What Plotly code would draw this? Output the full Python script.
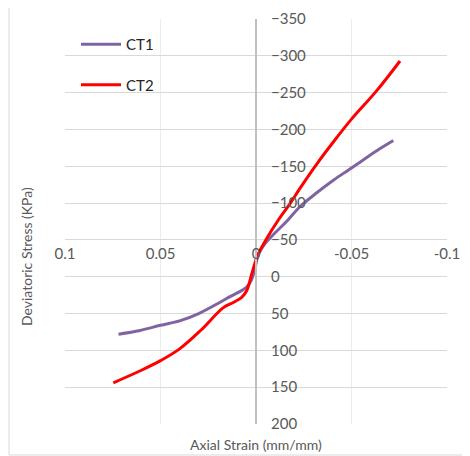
import plotly.graph_objects as go

# Data
ct1_strain = [0.072, 0.0607, 0.050, 0.040, 0.030, 0.019, 0.0136, 0.0049, 0.0023, 0.0005, -0.0012,
              -0.0047, -0.009, -0.016, -0.023, -0.0318, -0.0405, -0.049, -0.058, -0.065, -0.0719]
ct1_stress = [78, 73, 66, 60, 50, 35, 27, 14, 4, -12, -30,
              -45, -57, -75, -95, -114, -131, -146, -162, -174, -185]

ct2_strain = [0.0747, 0.060, 0.050, 0.040, 0.029, 0.0171, 0.0119, 0.0075, 0.0049, 0.0023, 0.0005,
              -0.0012, -0.0056, -0.0117, -0.018, -0.023, -0.0318, -0.042, -0.050, -0.063, -0.0754]
ct2_stress = [144, 127, 114, 98, 73, 42, 35, 28, 19, -3, -19,
              -31, -52, -77, -100, -120, -153, -188, -214, -252, -293]

x_ticks = [0.1, 0.05, 0, -0.05, -0.1]
x_tick_text = ["0.1", "0.05", "0", "-0.05", "-0.1"]
y_ticks = [-350, -300, -250, -200, -150, -100, -50, 0, 50, 100, 150, 200]

FONT = "Lato"
GREY = "#595959"

fig = go.Figure()
fig.add_trace(go.Scatter(x=ct1_strain, y=ct1_stress, mode="lines", name="CT1",
                         legendgroup="a",
                         line=dict(color="#8064A2", width=3, shape="spline", smoothing=1.0)))
fig.add_trace(go.Scatter(x=ct2_strain, y=ct2_stress, mode="lines", name="CT2",
                         legendgroup="b",
                         line=dict(color="#FF0000", width=3, shape="spline", smoothing=1.0)))

# The page body has an 8px margin: figure origin sits at page (8, 8)
OFF = 8
W, H = 470 - OFF, 456 - OFF
PL, PR, PT, PB = 65, 447, 19, 424  # plot area in page pixels
L, T = PL - OFF, PT - OFF
R, B = W - (PR - OFF), H - (PB - OFF)
pw, ph = W - L - R, H - T - B

def px2fx(px):
    return (px - PL) / pw

def py2fy(py):
    return (PB - py) / ph

fig.update_layout(
    width=W, height=H,
    margin=dict(l=L, r=R, t=T, b=B, autoexpand=False),
    paper_bgcolor="white", plot_bgcolor="white",
    font=dict(family=FONT, color=GREY, size=15),
    showlegend=True,
    legend=dict(x=px2fx(76), y=py2fy(28), xanchor="left", yanchor="top",
                bgcolor="rgba(0,0,0,0)", font=dict(size=15, color="#262626"),
                tracegroupgap=18, itemwidth=40),
    xaxis=dict(range=[0.1, -0.1], autorange=False, tickvals=x_ticks, ticktext=x_tick_text,
               showgrid=True, gridcolor="#ececec", gridwidth=1, zeroline=False,
               showline=False, anchor="free", position=py2fy(243), side="bottom",
               automargin=False, ticklabeloverflow="allow",
               ticks="", tickfont=dict(size=15, color=GREY)),
    yaxis=dict(range=[200, -350], autorange=False, tickvals=y_ticks,
               showgrid=True, gridcolor="#d9d9d9", gridwidth=1, zeroline=False,
               showline=True, linecolor="#bfbfbf", linewidth=2,
               anchor="free", position=px2fx(256), side="right",
               automargin=False, ticklabeloverflow="allow",
               ticks="", ticklabelstandoff=11, tickfont=dict(size=15, color=GREY)),
    annotations=[
        dict(text="Deviatoric Stress (KPa)", xref="paper", yref="paper",
             x=px2fx(26), y=py2fy(257), xanchor="center", yanchor="middle",
             textangle=-90, showarrow=False,
             font=dict(size=14, color=GREY)),
        dict(text="Axial Strain (mm/mm)", xref="paper", yref="paper",
             x=px2fx(256), y=py2fy(444), xanchor="center", yanchor="middle",
             showarrow=False,
             font=dict(size=14, color=GREY)),
    ],
    shapes=[
        dict(type="rect", xref="paper", yref="paper",
             x0=px2fx(9), x1=px2fx(480), y0=py2fy(455), y1=py2fy(5),
             line=dict(color="#d9d9d9", width=1), fillcolor="rgba(0,0,0,0)", layer="below"),
        dict(type="rect", xref="paper", yref="paper",
             x0=px2fx(124), x1=px2fx(172), y0=py2fy(100), y1=py2fy(28),
             line=dict(width=0), fillcolor="white", layer="between"),
    ],
)

fig.write_html("out.html")
